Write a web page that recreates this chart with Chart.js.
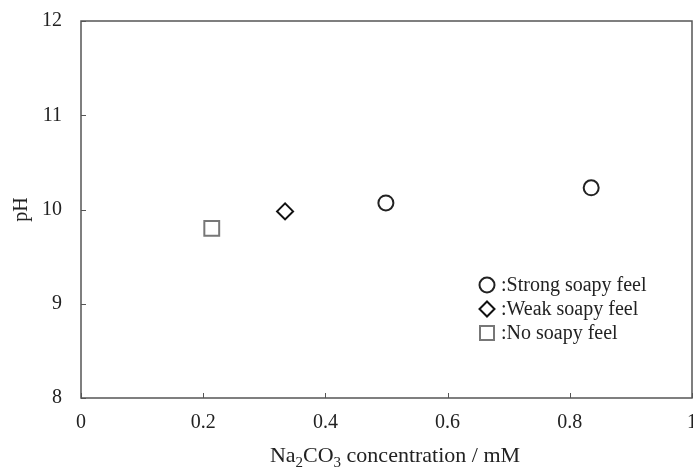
<!DOCTYPE html>
<html>
<head>
<meta charset="utf-8">
<script src="https://cdn.jsdelivr.net/npm/chart.js@4"></script>
<style>
  html, body { margin: 0; padding: 0; background: #fff; overflow: hidden; }
  #wrap { width: 693px; height: 468px; position: relative; }
</style>
</head>
<body>
<div id="wrap"><canvas id="canvas"></canvas></div>
<script>
// data
let strongX = [0.499, 0.835];
let strongY = [10.07, 10.23];
let weakX = [0.334];
let weakY = [9.98];
let noneX = [0.214];
let noneY = [9.80];
let xTicks = [0, 0.2, 0.4, 0.6, 0.8, 1];
let yTicks = [8, 9, 10, 11, 12];
let seriesNames = [":Strong soapy feel", ":Weak soapy feel", ":No soapy feel"];

const FONT = "'Liberation Serif', 'Times New Roman', serif";
const AXIS = "#555";
const PLOT_RIGHT = 692;

function pts(xs, ys) {
    return xs.map((x, i) => ({ x: x, y: ys[i] }));
}

function marker(c, style, x, y, r) {
    c.beginPath();
    if (style === "circle") {
        c.arc(x, y, r, 0, Math.PI * 2);
    } else if (style === "rectRot") {
        c.moveTo(x, y - r); c.lineTo(x + r, y);
        c.lineTo(x, y + r); c.lineTo(x - r, y); c.closePath();
    } else {
        c.rect(x - r, y - r, 2 * r, 2 * r);
    }
    c.fill();
    c.stroke();
}

// the plot runs right up to the edge, the "1" label is cut like in the original
let stretch = {
    id: "stretch",
    afterLayout(chart) {
        let a = chart.chartArea, x = chart.scales.x;
        a.right = PLOT_RIGHT;
        a.width = a.right - a.left;
        x.right = PLOT_RIGHT;
        x.width = x.right - x.left;
        x.configure();
    }
};

// box round the plot area, inward ticks, x title and the legend
let frame = {
    id: "frame",
    afterDraw(chart) {
        let c = chart.ctx, a = chart.chartArea;
        let xs = chart.scales.x, ys = chart.scales.y;
        c.save();
        c.strokeStyle = AXIS;
        c.lineWidth = 1.5;
        c.strokeRect(a.left, a.top, a.right - a.left, a.bottom - a.top);
        c.lineWidth = 1;
        c.beginPath();
        xTicks.forEach(v => {
            let px = Math.round(xs.getPixelForValue(v)) + 0.5;
            c.moveTo(px, a.bottom);
            c.lineTo(px, a.bottom - 5);
        });
        yTicks.forEach(v => {
            let py = Math.round(ys.getPixelForValue(v)) + 0.5;
            c.moveTo(a.left, py);
            c.lineTo(a.left + 5, py);
        });
        c.stroke();

        // x title with subscripts
        c.fillStyle = "#222";
        c.textBaseline = "alphabetic";
        let parts = [["Na", 0], ["2", 1], ["CO", 0], ["3", 1], [" concentration / mM", 0]];
        let big = "22px " + FONT, small = "15px " + FONT;
        let w = 0;
        parts.forEach(p => { c.font = p[1] ? small : big; w += c.measureText(p[0]).width; });
        let x = 395 - w / 2;
        let base = 462;
        parts.forEach(p => {
            c.font = p[1] ? small : big;
            c.fillText(p[0], x, p[1] ? base + 5 : base);
            x += c.measureText(p[0]).width;
        });

        // legend inside the plot
        let rowY = [285, 309, 333];
        chart.data.datasets.forEach((d, i) => {
            c.strokeStyle = d.borderColor;
            c.fillStyle = "#fff";
            c.lineWidth = 2;
            let r = d.pointStyle === "rect" ? 7 : 7.5;
            marker(c, d.pointStyle, 487, rowY[i], r);
            c.fillStyle = "#222";
            c.font = "20px " + FONT;
            c.textBaseline = "middle";
            c.fillText(d.label, 501, rowY[i] + 1);
        });
        c.restore();
    }
};

let chart = new Chart(document.getElementById("canvas"), {
    type: "scatter",
    data: {
        datasets: [{
            label: seriesNames[0],
            data: pts(strongX, strongY),
            pointStyle: "circle",
            pointRadius: 7.5,
            borderWidth: 2,
            borderColor: "#222",
            backgroundColor: "#fff"
        }, {
            label: seriesNames[1],
            data: pts(weakX, weakY),
            pointStyle: "rectRot",
            pointRadius: 8,
            borderWidth: 2,
            borderColor: "#111",
            backgroundColor: "#fff"
        }, {
            label: seriesNames[2],
            data: pts(noneX, noneY),
            pointStyle: "rect",
            pointRadius: 10.5,
            borderWidth: 2,
            borderColor: "#777",
            backgroundColor: "#fff"
        }]
    },
    options: {
        responsive: true,
        maintainAspectRatio: false,
        animation: false,
        layout: { padding: { top: 21, right: 1, left: 0, bottom: 0 } },
        scales: {
            x: {
                type: "linear",
                min: 0,
                max: 1,
                afterBuildTicks: s => { s.ticks = xTicks.map(v => ({ value: v })); },
                afterFit: s => { s.height = 70; },
                grid: { display: false },
                border: { display: false },
                ticks: {
                    padding: 5,
                    color: "#222",
                    font: { family: FONT, size: 20 },
                    maxRotation: 0,
                    callback: v => String(v)
                }
            },
            y: {
                min: 8,
                max: 12,
                afterBuildTicks: s => { s.ticks = yTicks.map(v => ({ value: v })); },
                afterFit: s => { s.width = 81; s.paddingTop = 0; s.paddingBottom = 0; },
                grid: { display: false },
                border: { display: false },
                title: {
                    display: true,
                    text: "pH",
                    color: "#222",
                    font: { family: FONT, size: 20 },
                    padding: { top: 10, bottom: 0 }
                },
                ticks: {
                    padding: 11,
                    color: "#222",
                    font: { family: FONT, size: 20 },
                    callback: v => String(v)
                }
            }
        },
        plugins: {
            legend: { display: false },
            tooltip: { enabled: false }
        }
    },
    plugins: [stretch, frame]
});
</script>
</body>
</html>
